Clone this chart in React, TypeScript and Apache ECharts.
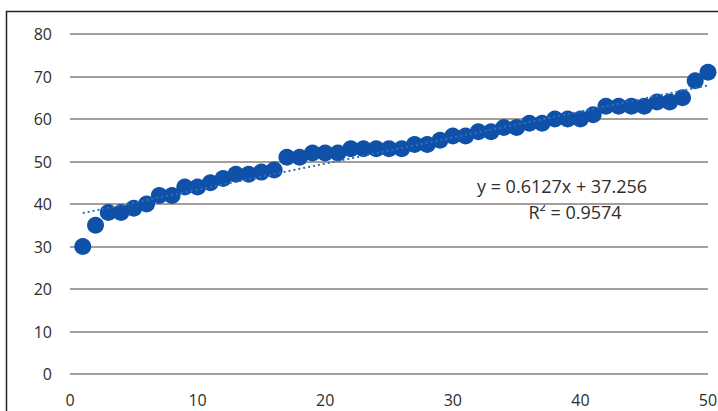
import React, { useEffect, useRef } from "react";
import * as echarts from "echarts";

const xValues = [
  1, 2, 3, 4, 5, 6, 7, 8, 9, 10, 11, 12, 13, 14, 15, 16, 17, 18, 19, 20, 21, 22, 23, 24, 25,
  26, 27, 28, 29, 30, 31, 32, 33, 34, 35, 36, 37, 38, 39, 40, 41, 42, 43, 44, 45, 46, 47, 48, 49, 50,
];
const yValues = [
  30, 35, 38, 38, 39, 40, 42, 42, 44, 44, 45, 46, 47, 47, 47.5, 48, 51, 51, 52, 52, 52, 53, 53, 53, 53,
  53, 54, 54, 55, 56, 56, 57, 57, 58, 58, 59, 59, 60, 60, 60, 61, 63, 63, 63, 63, 64, 64, 65, 69, 71,
];
const trendSlope = 0.6127;
const trendIntercept = 37.256;
const trendX = [1, 50];
const equationText = "y = 0.6127x + 37.256";
const r2Text = "R² = 0.9574";

export default function App() {
  const ref = useRef<HTMLDivElement>(null);
  useEffect(() => {
    if (!ref.current) return;
    const chart = echarts.init(ref.current, null, { renderer: "svg" });
    const points = xValues.map((x, i) => [x, yValues[i]]);
    const trend = trendX.map((x) => [x, trendSlope * x + trendIntercept]);
    const font = "'Open Sans', 'Liberation Sans', sans-serif";
    chart.setOption({
      animation: false,
      backgroundColor: "#ffffff",
      grid: { left: 70, right: 10, top: 34, bottom: 37, containLabel: false, outerBoundsMode: "none" },
      xAxis: {
        type: "value",
        min: 0,
        max: 50,
        interval: 10,
        axisLine: { show: false },
        axisTick: { show: false },
        splitLine: { show: false },
        axisLabel: { color: "#2e2e2e", fontSize: 16, fontFamily: font, margin: 18 },
      },
      yAxis: {
        type: "value",
        min: 0,
        max: 80,
        interval: 10,
        axisLine: { show: false },
        axisTick: { show: false },
        splitLine: { show: true, lineStyle: { color: "#a89d96", width: 2 } },
        axisLabel: { color: "#2e2e2e", fontSize: 16, fontFamily: font, margin: 18 },
      },
      series: [
        {
          type: "line",
          data: trend,
          symbol: "none",
          lineStyle: { color: "#2f6fc0", width: 2, type: [2, 3] },
          z: 3,
        },
        {
          type: "scatter",
          data: points,
          symbolSize: 17,
          itemStyle: { color: "#0f50a8", opacity: 1 },
          z: 2,
        },
      ],
      graphic: [
        {
          type: "rect",
          shape: { x: 6.5, y: 11.5, width: 720, height: 420 },
          style: { fill: "none", stroke: "#222222", lineWidth: 1.5 },
          silent: true,
        },
        {
          type: "text",
          x: 562,
          y: 186,
          style: {
            text: equationText,
            fill: "#2e2e2e",
            font: `18px ${font}`,
            textAlign: "center",
            textVerticalAlign: "middle",
          },
        },
        {
          type: "text",
          x: 575,
          y: 212,
          style: {
            text: r2Text,
            fill: "#2e2e2e",
            font: `18px ${font}`,
            textAlign: "center",
            textVerticalAlign: "middle",
          },
        },
      ],
    });
    return () => chart.dispose();
  }, []);
  return (
    <div
      ref={ref}
      style={{ position: "absolute", left: 0, top: 0, width: 718, height: 411 }}
    />
  );
}
